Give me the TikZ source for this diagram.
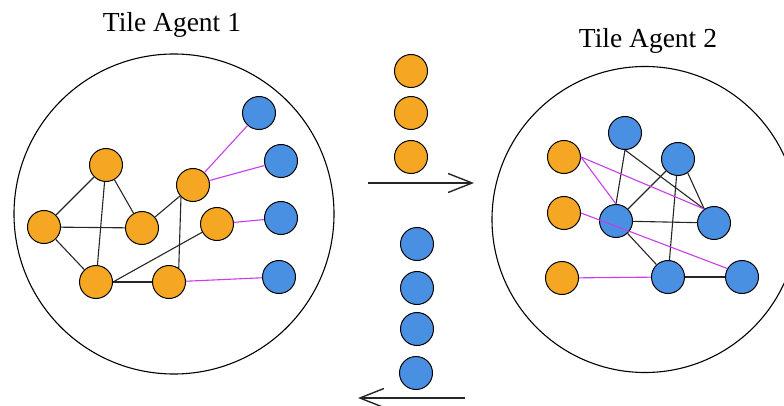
\documentclass[tikz,border=0pt]{standalone}
\usepackage{fontspec}
\setmainfont{Liberation Serif}
\usetikzlibrary{arrows.meta}
\definecolor{tileorange}{HTML}{F5A623}
\definecolor{tileblue}{HTML}{4A90E2}
\definecolor{linkpurple}{HTML}{C83CEB}
\begin{document}
\begin{tikzpicture}[x=1pt,y=-1pt,
  agent/.style={circle, draw=black, line width=1pt, minimum size=33pt, inner sep=0pt},
  own/.style={agent, fill=tileorange},
  foreign/.style={agent, fill=tileblue},
  edge/.style={draw=black!85, line width=1.1pt},
  link/.style={draw=linkpurple, line width=1.1pt},
  tile/.style={circle, draw=black, line width=1.1pt, inner sep=0pt},
  transfer/.style={draw=black!85, line width=1.2pt, -{Straight Barb[length=24pt,width=19pt,line width=1.4pt]}},
  title/.style={font=\fontsize{27.5}{30}\selectfont, anchor=base, inner sep=0pt}]
\useasboundingbox (0,0) rectangle (784,406);

% tile boundaries (the second one runs past the right edge)
\begin{scope}
  \clip (0,0) rectangle (784,406);
  \node[tile, minimum size=320pt] (tile1) at (174,214) {};
  \node[tile, minimum size=306pt] (tile2) at (645,219.5) {};
\end{scope}

\node[title] (title1) at (172,32) {Tile Agent 1};
\node[title] (title2) at (648,48) {Tile Agent 2};

% --- tile 1: own vertices and ghost vertices
\node[own] (O1) at (106,165) {};
\node[own] (O2) at (44,227) {};
\node[own] (O3) at (142,228) {};
\node[own] (O4) at (193,185) {};
\node[own] (O5) at (217,224) {};
\node[own] (O6) at (96,282) {};
\node[own] (O7) at (169,282) {};
\node[foreign] (B1) at (259,113) {};
\node[foreign] (B2) at (281,161) {};
\node[foreign] (B3) at (281,218) {};
\node[foreign] (B4) at (279,277) {};

\draw[edge] (O1) -- (O2);
\draw[edge] (O1) -- (O3);
\draw[edge] (O1) -- (O6);
\draw[edge] (O2) -- (O3);
\draw[edge] (O2) -- (O6);
\draw[edge] (O3) -- (O4);
\draw[edge] (O4.225) -- (O7.55);
\draw[edge] (O6) -- (O7);
\draw[edge] (O6.east) -- (O5);
\draw[link] (O4) -- (B1);
\draw[link] (O4) -- (B2);
\draw[link] (O5) -- (B3);
\draw[link] (O7) -- (B4);

% --- tile 2
\node[own] (P1) at (564,157) {};
\node[own] (P2) at (564,213) {};
\node[own] (P3) at (562,278) {};
\node[foreign] (Q1) at (625,133) {};
\node[foreign] (Q2) at (678,159) {};
\node[foreign] (Q3) at (616,221) {};
\node[foreign] (Q4) at (714,223) {};
\node[foreign] (Q5) at (668,277) {};
\node[foreign] (Q6) at (742,277) {};

\draw[edge] (Q1.south) -- (Q3.north);
\draw[edge] (Q1.south) -- (Q4.125);
\draw[edge] (Q2) -- (Q3);
\draw[edge] (Q2.-55) -- (Q4.125);
\draw[edge] (Q2) -- (Q5);
\draw[edge] (Q3) -- (Q4);
\draw[edge] (Q3) -- (Q5);
\draw[edge] (Q5) -- (Q6);
\draw[link] (P1.east) -- (Q4.125);
\draw[link] (P1.east) -- (Q3.north);
\draw[link] (P2.east) -- (Q6.150);
\draw[link] (P3) -- (Q5);

% --- vertices in transit between the tiles
\node[own] (M1) at (411,71) {};
\node[own] (M2) at (411,113) {};
\node[own] (M3) at (411,157) {};
\node[foreign] (N1) at (417,244) {};
\node[foreign] (N2) at (417,288) {};
\node[foreign] (N3) at (417,329) {};
\node[foreign] (N4) at (416,373) {};

\coordinate (sendA) at (368,183);
\coordinate (sendB) at (474,183);
\coordinate (recvA) at (465,398);
\coordinate (recvB) at (358,398);
\draw[transfer] (sendA) -- (sendB);
\draw[transfer] (recvA) -- (recvB);
\end{tikzpicture}
\end{document}
